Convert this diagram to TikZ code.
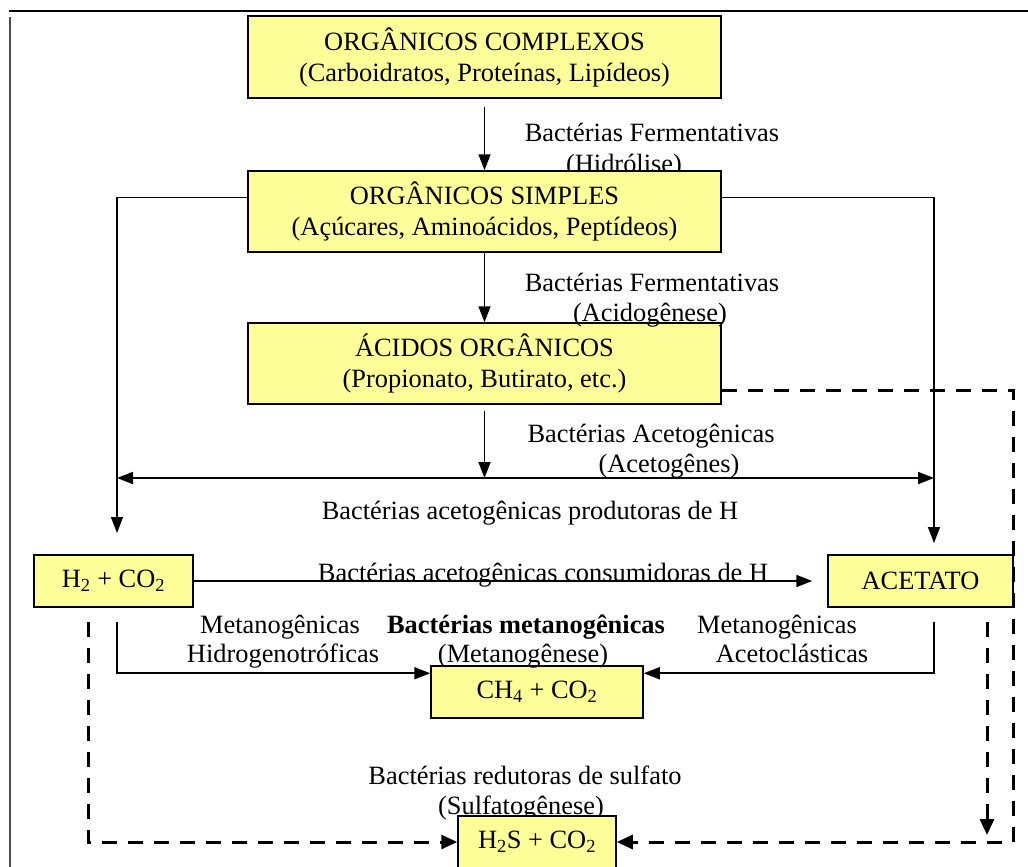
\documentclass[tikz,border=0pt]{standalone}
\usepackage{fontspec}
\setmainfont{Liberation Serif}
\usetikzlibrary{arrows.meta,calc}
\definecolor{boxyellow}{HTML}{FFFF99}
\begin{document}
\begin{tikzpicture}[x=1pt,y=-1pt,
  every node/.style={font=\fontsize{26.4}{31}\selectfont, inner sep=0pt},
  box/.style={draw=black, line width=1.5pt, fill=boxyellow, align=center},
  lbl/.style={anchor=base},
  conn/.style={line width=1.5pt, -{Triangle[length=16pt,width=12pt]}},
  both/.style={line width=1.8pt, {Triangle[length=16pt,width=12pt]}-{Triangle[length=16pt,width=12pt]}},
  dashconn/.style={line width=3pt, dash pattern=on 15pt off 11pt, -{Triangle[length=16pt,width=14pt]}},
]
\useasboundingbox (0,0) rectangle (1028,867);
% frame lines
\draw[line width=2pt] (9,11) -- (1028,11);
\draw[line width=1.5pt, black!70] (10,17) -- (10,867);

% boxes
\node[box, minimum width=473pt, minimum height=82pt] (b1) at (484.5,57)
  {ORGÂNICOS COMPLEXOS\\(Carboidratos, Proteínas, Lipídeos)};
\node[box, minimum width=473pt, minimum height=81pt] (b2) at (484.5,211.5)
  {ORGÂNICOS SIMPLES\\(Açúcares, Aminoácidos, Peptídeos)};
\node[box, minimum width=473pt, minimum height=81pt] (b3) at (484.5,363.5)
  {ÁCIDOS ORGÂNICOS\\(Propionato, Butirato, etc.)};
\node[box, minimum width=159pt, minimum height=52pt] (h2) at (113.5,581)
  {H\textsubscript{2} + CO\textsubscript{2}};
\node[box, minimum width=185pt, minimum height=52pt] (ac) at (920.5,581)
  {ACETATO};
\node[box, minimum width=212pt, minimum height=52pt] (ch4) at (537,692)
  {CH\textsubscript{4} + CO\textsubscript{2}};
\node[box, minimum width=158pt, minimum height=52pt] (h2s) at (537,842)
  {H\textsubscript{2}S + CO\textsubscript{2}};

% labels
\node[lbl] (l1a) at (652,141) {Bactérias Fermentativas};
\node[lbl] (l1b) at (624,172) {(Hidrólise)};
\node[lbl] (l2a) at (652,291) {Bactérias Fermentativas};
\node[lbl] (l2b) at (650,321) {(Acidogênese)};
\node[lbl] (l3a) at (651,442) {Bactérias Acetogênicas};
\node[lbl] (l3b) at (669,472) {(Acetogênes)};
\node[lbl] (l4) at (530,519) {Bactérias acetogênicas produtoras de H};
\node[lbl] (l5) at (543,581) {Bactérias acetogênicas consumidoras de H};
\node[lbl] (l6a) at (280,633) {Metanogênicas};
\node[lbl] (l6b) at (283,662) {Hidrogenotróficas};
\node[lbl] (l7a) at (526,633) {\bfseries Bactérias metanogênicas};
\node[lbl] (l7b) at (523,662) {(Metanogênese)};
\node[lbl] (l8a) at (777,633) {Metanogênicas};
\node[lbl] (l8b) at (792,662) {Acetoclásticas};
\node[lbl] (l9a) at (525,784) {Bactérias redutoras de sulfato};
\node[lbl] (l9b) at (521,814) {(Sulfatogênese)};

% redraw box2 and h2s over overlapping labels
\node[box, minimum width=473pt, minimum height=81pt] at (b2) {ORGÂNICOS SIMPLES\\(Açúcares, Aminoácidos, Peptídeos)};
\node[box, minimum width=158pt, minimum height=52pt] at (h2s) {H\textsubscript{2}S + CO\textsubscript{2}};

% coordinates
\coordinate (jL) at (117,478);
\coordinate (jR) at (934,478);
\coordinate (aL) at (117,533);
\coordinate (aR) at (934,543);
\coordinate (mL) at (117,622);
\coordinate (mR) at (934,622);
\coordinate (d1) at (1013,390);
\coordinate (d2) at (88,622);
\coordinate (d3) at (987,622);
\coordinate (d3e) at (987,835);

% solid connectors
\draw[conn, shorten <=8pt] (b1.south) -- (b2.north);
\draw[conn] (b2.south) -- (b3.north);
\draw[conn, shorten <=6pt] (b3.south) -- (b3.south |- jL);
\draw[both] (jL) -- (jR);
\draw[conn] ($(b2.north west)+(0,27)$) -| (aL);
\draw[conn] ($(b2.north east)+(0,27)$) -| (aR);
\draw[conn, line width=1.8pt] (h2.east) -- ($(ac.west)+(-15,0)$);
\draw[conn, line width=1.8pt] (mL) |- ($(ch4.north west)+(0,8)$);
\draw[conn, line width=1.8pt] (mR) |- ($(ch4.north east)+(0,8)$);

% dashed connectors
\draw[dashconn] (d1 -| b3.east) -- (d1) |- (h2s.east);
\draw[dashconn] (d2) |- (h2s.west);
\draw[dashconn] (d3) -- (d3e);
\end{tikzpicture}
\end{document}
